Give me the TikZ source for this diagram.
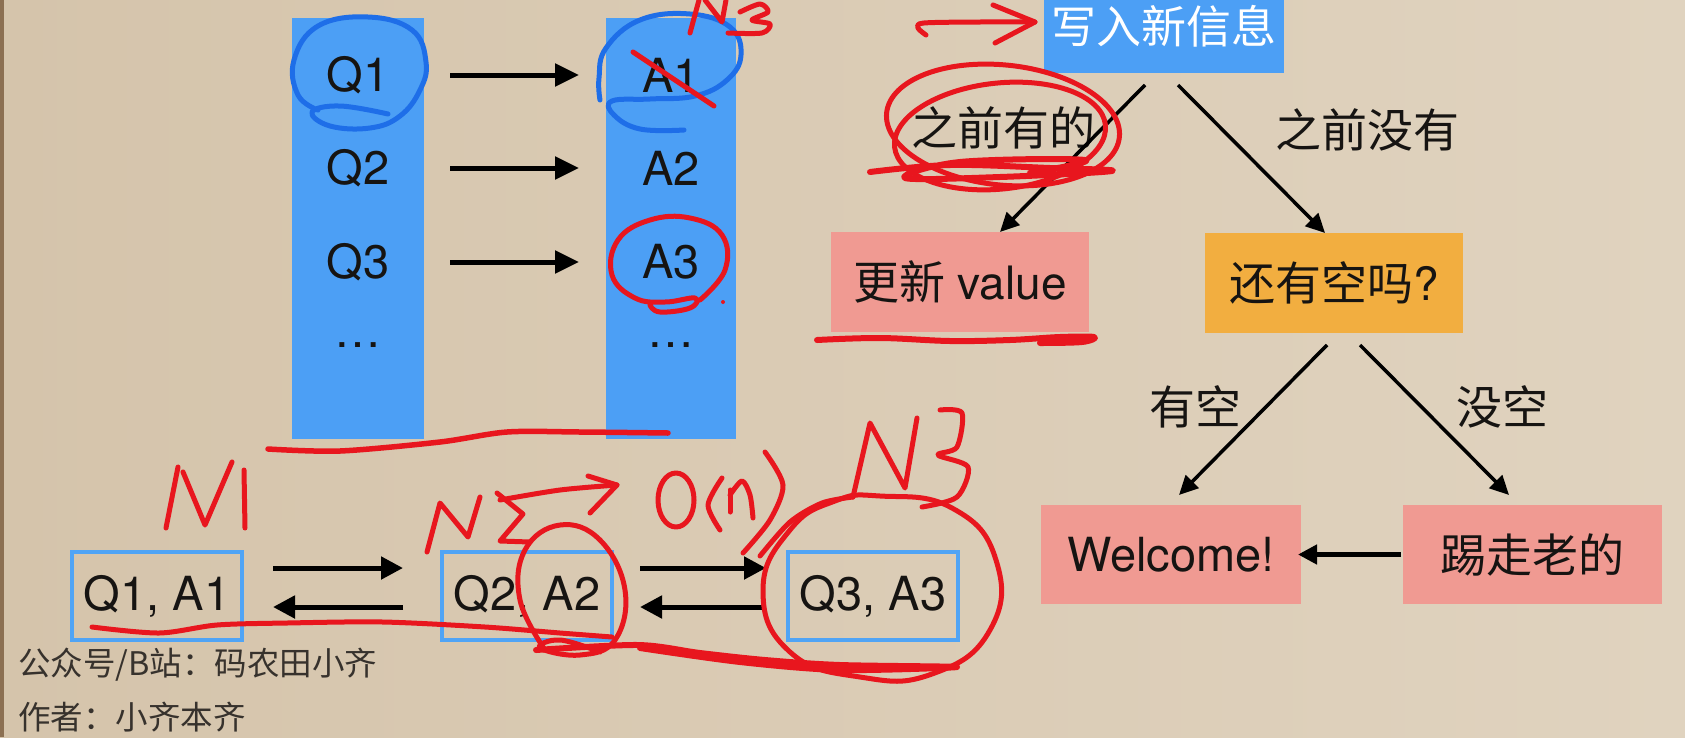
\documentclass[tikz,border=0pt]{standalone}
\usepackage{fontspec}
\setmainfont{TeX Gyre Heros}
\newfontfamily\cjk{Noto Sans CJK SC}
\usetikzlibrary{arrows.meta,calc}
\definecolor{bgL}{RGB}{213,196,171}
\definecolor{bgR}{RGB}{224,211,191}
\definecolor{strip}{RGB}{140,112,82}
\definecolor{colblue}{RGB}{76,159,245}
\definecolor{boxblue}{RGB}{80,164,245}
\definecolor{pinkbox}{RGB}{240,154,146}
\definecolor{orangebox}{RGB}{242,174,64}
\definecolor{penred}{RGB}{232,22,30}
\definecolor{penblue}{RGB}{30,110,232}
\definecolor{foottext}{RGB}{55,50,45}
\definecolor{ink}{RGB}{22,20,18}
\tikzset{
  every node/.style={outer sep=0pt, inner sep=0pt, text=ink},
  colbox/.style={fill=colblue, minimum width=132, minimum height=421},
  qa/.style={minimum width=132, minimum height=60, font=\fontsize{47}{50}\selectfont},
  flowbox/.style={minimum width=258, minimum height=100, font=\fontsize{46}{50}\selectfont},
  lbl/.style={font=\cjk\fontsize{46}{50}\selectfont},
  listbox/.style={draw=boxblue, line width=4, minimum width=170, minimum height=88, font=\fontsize{47}{50}\selectfont},
  bigarrow/.style={line width=5, -{Triangle[length=24,width=22]}},
  flowarrow/.style={line width=3.5, -{Triangle[length=19,width=18]}},
  lkarrow/.style={line width=5, -{Triangle[length=22,width=22]}},
  foot/.style={anchor=west, text=foottext, font=\cjk\fontsize{32.5}{36}\selectfont},
  redpen/.style={draw=penred, line width=5, line cap=round, line join=round},
  bluepen/.style={draw=penblue, line width=5, line cap=round, line join=round}
}
\begin{document}
\begin{tikzpicture}[x=1pt,y=-1pt]
\useasboundingbox (0,0) rectangle (1685,737);
\shade[left color=bgL, right color=bgR] (0,0) rectangle (1685,737);
\fill[strip] (0,0) rectangle (3.5,737);

% --- columns
\node[colbox] (qcol) at (358,228.5) {};
\node[colbox, minimum width=130] (acol) at (671,228.5) {};
\node[qa] (q1) at (358,75) {Q1};
\node[qa] (q2) at (358,168) {Q2};
\node[qa] (q3) at (358,262) {Q3};
\node[qa] (qd) at (358,345) {…};
\node[qa, minimum width=130] (a1) at (671,75) {A1};
\node[qa, minimum width=130] (a2) at (671,168) {A2};
\node[qa, minimum width=130] (a3) at (671,262) {A3};
\node[qa, minimum width=130] (ad) at (671,345) {…};
\draw[bigarrow, shorten <=26, shorten >=27] (q1) -- (a1);
\draw[bigarrow, shorten <=26, shorten >=27] (q2) -- (a2);
\draw[bigarrow, shorten <=26, shorten >=27] (q3) -- (a3);

% --- flow chart
\node[fill=colblue, minimum width=240, minimum height=93, text=white, font=\cjk\fontsize{45}{50}\selectfont] (w) at (1164,26.5) {写入新信息};
\node[flowbox, fill=pinkbox] (upd) at (960,282) {{\cjk 更新} value};
\node[flowbox, fill=orangebox] (h) at (1334,283) {{\cjk 还有空吗}?};
\node[flowbox, fill=pinkbox, minimum width=260, minimum height=99, font=\fontsize{47}{50}\selectfont] (wel) at (1171,554.5) {Welcome!};
\node[flowbox, fill=pinkbox, minimum width=259, minimum height=99, font=\cjk\fontsize{46}{50}\selectfont] (kick) at (1532.5,554.5) {踢走老的};
\node[lbl] (l1) at (1003,128) {之前有的};
\node[lbl] (l2) at (1367,130) {之前没有};
\node[lbl] (l3) at (1195,407) {有空};
\node[lbl] (l4) at (1502,407) {没空};
\draw[flowarrow] ($(w.south)+(-19,12)$) -- ($(upd.north)+(40,0)$);
\draw[flowarrow] ($(w.south)+(14,12)$) -- ($(h.north)+(-9,0)$);
\draw[flowarrow] ($(h.south)+(-7,12)$) -- ($(wel.north)+(8,-10)$);
\draw[flowarrow] ($(h.south)+(26,12)$) -- ($(kick.north)+(-23.5,-10)$);
\draw[line width=4.5, -{Triangle[length=19,width=19]}] ($(kick.west)+(-2,0)$) -- ($(wel.east)+(-3,0)$);

% --- linked list
\node[listbox] (b1) at (157,596) {Q1, A1};
\node[listbox] (b2) at (527,596) {Q2, A2};
\node[listbox] (b3) at (873,596) {Q3, A3};
\draw[lkarrow] ($(b1.east)+(31,-28)$) -- ($(b2.west)+(-39,-28)$);
\draw[lkarrow] ($(b2.west)+(-39,11)$) -- ($(b1.east)+(31,11)$);
\draw[lkarrow] ($(b2.east)+(28,-28)$) -- ($(b3.west)+(-22,-28)$);
\draw[lkarrow] ($(b3.west)+(-22,11)$) -- ($(b2.east)+(28,11)$);

% --- footer
\node[foot] (f1) at (18,665) {公众号/B站：码农田小齐};
\node[foot] (f2) at (18,717) {作者：小齐本齐};

% --- hand annotations (blue)
\draw[bluepen] plot[smooth, tension=0.7] coordinates {(388,114) (340,106) (312,112) (330,126) (370,128) (400,116) (420,90) (426,62) (412,30) (368,17) (318,26) (294,60) (298,95) (318,110)};
\draw[bluepen] plot[smooth, tension=0.7] coordinates {(684,130) (640,129) (614,115) (612,101) (650,99) (695,96) (727,80) (741,55) (730,27) (690,14) (640,20) (606,48) (599,78) (600,100)};

% --- hand annotations (red)
\draw[redpen] plot[smooth] coordinates {(633,52) (672,78) (714,106)};
\draw[redpen] (690,33) -- (699,0) (705,0) -- (722,22) -- (726,0);
\draw[redpen] plot[smooth, tension=0.5] coordinates {(740,12) (760,4) (768,12) (752,20) (770,24) (762,33) (728,33)};
\draw[redpen] plot[smooth, tension=0.7] coordinates {(700,300) (725,270) (722,235) (690,218) (650,220) (618,240) (612,275) (635,298) (665,302) (695,298) (690,308) (660,312) (650,305)};
\fill[penred] (723,302) circle (2);
\draw[redpen, line width=5.5] plot[smooth] coordinates {(268,449) (340,451) (440,442) (507,432) (580,432) (668,433)};
% arrow to write box
\draw[redpen] plot[smooth] coordinates {(926,35) (918,28) (924,23) (980,22) (1035,22)};
\draw[redpen] (993,5) -- (1035,22) -- (995,43);
% scribble around first label
\draw[redpen] (1003,125) ellipse [x radius=117, y radius=60, rotate=-6];
\draw[redpen] (1000,136) ellipse [x radius=106, y radius=53, rotate=6];
\draw[redpen, line width=6] plot[smooth, tension=0.6] coordinates {(870,172) (950,165) (1050,168) (1112,171) (1000,177) (905,178) (960,162) (1085,160) (1030,173)};
% underline update box
\draw[redpen, line width=6] plot[smooth, tension=0.6] coordinates {(817,340) (880,338) (950,341) (1010,340) (1060,337) (1094,337) (1082,342) (1040,343)};
% N1
\draw[redpen] (166,528) -- (178,467);
\draw[redpen] (183,472) -- (205,525) -- (232,462);
\draw[redpen] (244,470) -- (245,528);
% N2 ->
\draw[redpen] (427,552) -- (440,503) -- (468,537) -- (480,497);
\draw[redpen] (497,493) -- (523,514) -- (500,541) -- (530,542);
\draw[redpen] plot[smooth] coordinates {(500,500) (560,490) (617,485)};
\draw[redpen] (588,476) -- (617,485) -- (590,513);
% O(n)
\draw[redpen] (676,500) ellipse [x radius=18, y radius=27];
\draw[redpen] plot[smooth] coordinates {(722,478) (708,505) (720,530)};
\draw[redpen] (730,512) -- (730,490);
\draw[redpen] plot[smooth] coordinates {(730,495) (742,481) (750,495) (753,518)};
\draw[redpen] plot[smooth] coordinates {(765,452) (783,485) (770,520) (743,553)};
% N3 over third box
\draw[redpen] plot[smooth] coordinates {(760,556) (790,522) (822,503) (853,497)};
\draw[redpen] (853,497) -- (870,423) -- (905,488) -- (917,418);
\draw[redpen] plot[smooth, tension=0.5] coordinates {(940,410) (962,413) (957,447) (938,455) (968,467) (957,497) (922,507)};
% circles
\draw[redpen] plot[smooth cycle, tension=0.8] coordinates {(880,496) (952,508) (996,560) (990,630) (932,674) (860,677) (790,652) (763,590) (790,530) (835,501)};
\draw[redpen] plot[smooth, tension=0.7] coordinates {(545,650) (520,600) (525,550) (560,525) (600,540) (625,590) (615,640) (580,655) (540,648) (560,640) (600,652)};
% long underline through the list
\draw[redpen, line width=5] plot[smooth] coordinates {(92,627) (159,633) (217,625) (287,623) (383,622) (485,627) (560,633) (612,637)};
\draw[redpen, line width=6] plot[smooth, tension=0.5] coordinates {(536,650) (638,645) (700,653) (765,660) (840,665) (957,667) (840,670) (740,662) (640,648)};
\end{tikzpicture}
\end{document}
